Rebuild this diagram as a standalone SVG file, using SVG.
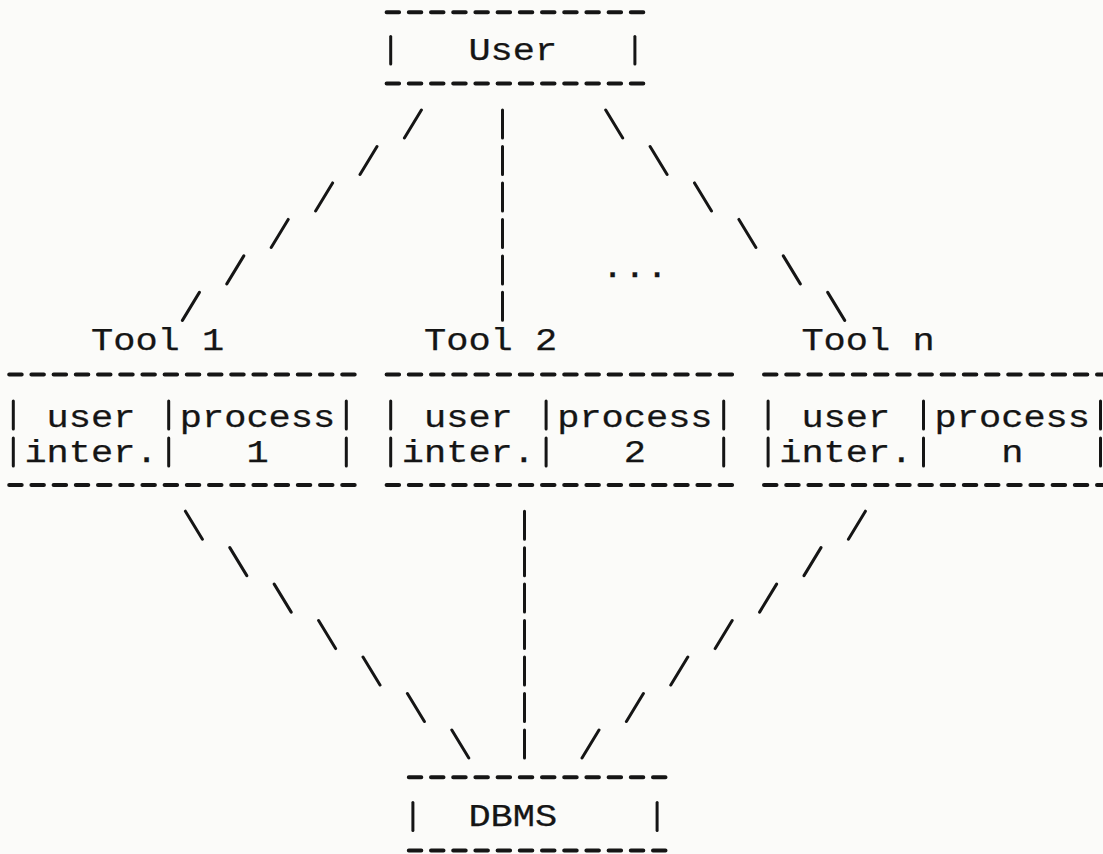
<svg xmlns="http://www.w3.org/2000/svg" width="1103" height="854" viewBox="0 0 1103 854">
<style>
.t{font-family:"Liberation Mono","Courier New",monospace;font-size:31px;fill:#151515;stroke:#151515;stroke-width:0.25}
.d{stroke:#151515;stroke-width:4;stroke-linecap:round;stroke-dasharray:12.5 9.7;fill:none}
.b{stroke:#151515;stroke-width:3;stroke-linecap:round;fill:none}
.c{stroke:#151515;stroke-width:3;stroke-linecap:round;fill:none}
</style>
<rect width="1103" height="854" fill="#fbfbf9"/>

<g id="connectors">
<path id="user-tool1" class="c" d="M404.4,138 L421.4,110 M360,174.47 L377,146.47 M315.6,210.94 L332.6,182.94 M271.2,247.41 L288.2,219.41 M226.8,283.88 L243.8,255.88 M182.4,320.35 L199.4,292.35"/>
<path id="user-tool2" class="c" d="M502.5,110 V138 M502.5,146.47 V174.47 M502.5,182.94 V210.94 M502.5,219.41 V247.41 M502.5,255.88 V283.88 M502.5,292.35 V320.35"/>
<path id="user-tooln" class="c" d="M605.7,110 L622.7,138 M650.1,146.47 L667.1,174.47 M694.5,182.94 L711.5,210.94 M738.9,219.41 L755.9,247.41 M783.3,255.88 L800.3,283.88 M827.7,292.35 L844.7,320.35"/>
<path id="tool1-dbms" class="c" d="M185.4,511.17 L202.4,539.17 M229.8,547.64 L246.8,575.64 M274.2,584.11 L291.2,612.11 M318.6,620.58 L335.6,648.58 M363,657.05 L380,685.05 M407.4,693.52 L424.4,721.52 M451.8,729.99 L468.8,757.99"/>
<path id="tool2-dbms" class="c" d="M524.5,511.17 V539.17 M524.5,547.64 V575.64 M524.5,584.11 V612.11 M524.5,620.58 V648.58 M524.5,657.05 V685.05 M524.5,693.52 V721.52 M524.5,729.99 V757.99"/>
<path id="tooln-dbms" class="c" d="M848.4,539.17 L865.4,511.17 M804,575.64 L821,547.64 M759.6,612.11 L776.6,584.11 M715.2,648.58 L732.2,620.58 M670.8,685.05 L687.8,657.05 M626.4,721.52 L643.4,693.52 M582,757.99 L599,729.99"/>
</g>

<g id="more-tools">
<text class="t" x="601.6" y="277" textLength="66.6" lengthAdjust="spacingAndGlyphs">...</text>
</g>

<g id="node-user">
<line class="d" x1="386.6" y1="12.3" x2="643.3" y2="12.3"/>
<line class="b" x1="390.7" y1="36.5" x2="390.7" y2="64"/>
<text class="t" x="468.4" y="60" textLength="88.8" lengthAdjust="spacingAndGlyphs">User</text>
<line class="b" x1="634.9" y1="36.5" x2="634.9" y2="64"/>
<line class="d" x1="386.6" y1="83.5" x2="643.3" y2="83.5"/>
</g>

<g id="node-tool1">
<text class="t" x="91" y="349.5" textLength="133.2" lengthAdjust="spacingAndGlyphs">Tool 1</text>
<line class="d" x1="9.2" y1="374.5" x2="354.7" y2="374.5"/>
<path class="b" d="M13.3,401 V429 M168.7,401 V429 M346.3,401 V429 M13.3,438 V466 M168.7,438 V466 M346.3,438 V466"/>
<text class="t" x="46.6" y="426.5" textLength="88.8" lengthAdjust="spacingAndGlyphs">user</text>
<text class="t" x="179.8" y="426.5" textLength="155.4" lengthAdjust="spacingAndGlyphs">process</text>
<text class="t" x="24.4" y="462" textLength="133.2" lengthAdjust="spacingAndGlyphs">inter.</text>
<text class="t" x="246.4" y="462" textLength="22.2" lengthAdjust="spacingAndGlyphs">1</text>
<line class="d" x1="9.2" y1="485" x2="354.7" y2="485"/>
</g>

<g id="node-tool2">
<text class="t" x="424" y="349.5" textLength="133.2" lengthAdjust="spacingAndGlyphs">Tool 2</text>
<line class="d" x1="386.6" y1="374.5" x2="732.1" y2="374.5"/>
<path class="b" d="M390.7,401 V429 M546.1,401 V429 M723.7,401 V429 M390.7,438 V466 M546.1,438 V466 M723.7,438 V466"/>
<text class="t" x="424" y="426.5" textLength="88.8" lengthAdjust="spacingAndGlyphs">user</text>
<text class="t" x="557.2" y="426.5" textLength="155.4" lengthAdjust="spacingAndGlyphs">process</text>
<text class="t" x="401.8" y="462" textLength="133.2" lengthAdjust="spacingAndGlyphs">inter.</text>
<text class="t" x="623.8" y="462" textLength="22.2" lengthAdjust="spacingAndGlyphs">2</text>
<line class="d" x1="386.6" y1="485" x2="732.1" y2="485"/>
</g>

<g id="node-tooln">
<text class="t" x="801.4" y="349.5" textLength="133.2" lengthAdjust="spacingAndGlyphs">Tool n</text>
<line class="d" x1="764" y1="374.5" x2="1109.5" y2="374.5"/>
<path class="b" d="M768.1,401 V429 M923.5,401 V429 M1100.5,401 V429 M768.1,438 V466 M923.5,438 V466 M1100.5,438 V466"/>
<text class="t" x="801.4" y="426.5" textLength="88.8" lengthAdjust="spacingAndGlyphs">user</text>
<text class="t" x="934.6" y="426.5" textLength="155.4" lengthAdjust="spacingAndGlyphs">process</text>
<text class="t" x="779.2" y="462" textLength="133.2" lengthAdjust="spacingAndGlyphs">inter.</text>
<text class="t" x="1001.2" y="462" textLength="22.2" lengthAdjust="spacingAndGlyphs">n</text>
<line class="d" x1="764" y1="485" x2="1109.5" y2="485"/>
</g>

<g id="node-dbms">
<line class="d" x1="408.8" y1="777.3" x2="665.5" y2="777.3"/>
<line class="b" x1="412.9" y1="802.4" x2="412.9" y2="830.4"/>
<text class="t" x="468.4" y="826" textLength="88.8" lengthAdjust="spacingAndGlyphs">DBMS</text>
<line class="b" x1="657.1" y1="802.4" x2="657.1" y2="830.4"/>
<line class="d" x1="408.8" y1="850.5" x2="665.5" y2="850.5"/>
</g>
</svg>
